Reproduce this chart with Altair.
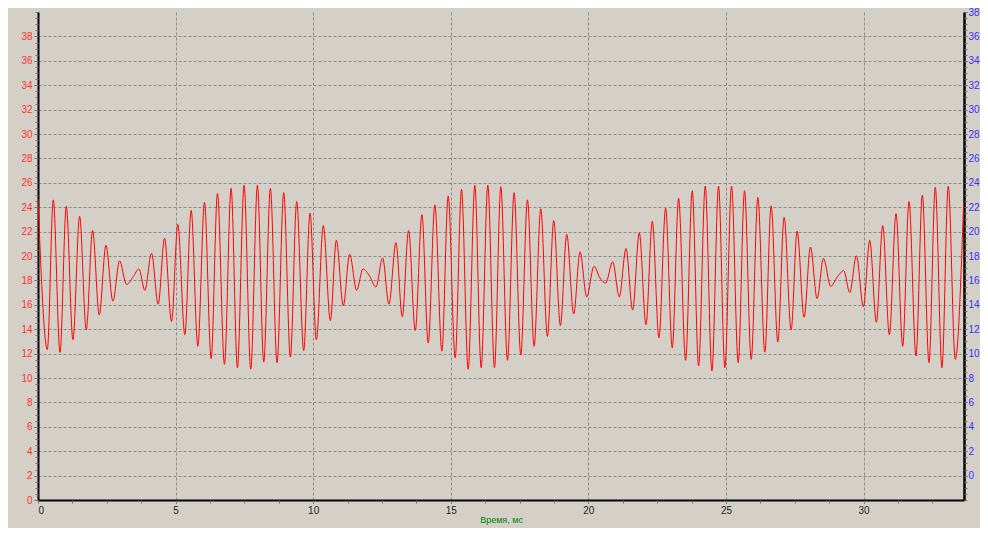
import altair as alt
import pandas as pd

# Extremes of the waveform (time in ms, value)
time_ms = [
    0.0, 0.339, 0.556, 0.799, 1.028, 1.270, 1.512, 1.754, 1.984, 2.226,
    2.468, 2.722, 2.964, 3.218, 3.460, 3.666, 3.884, 4.126, 4.368, 4.598,
    4.852, 5.082, 5.336, 5.565, 5.808, 6.050, 6.292, 6.522, 6.776, 7.017,
    7.247, 7.489, 7.731, 7.974, 8.203,
    8.445, 8.687, 8.929, 9.171, 9.401, 9.655, 9.885, 10.115, 10.369, 10.623,
    10.841, 11.095, 11.325, 11.579, 11.809, 12.05, 12.281, 12.523, 12.753, 13.007,
    13.237, 13.467, 13.709, 13.951, 14.180, 14.422, 14.676, 14.906, 15.160, 15.390,
    15.632, 15.874, 16.104, 16.346, 16.588,
    16.818, 17.060, 17.302, 17.544, 17.786, 18.028, 18.270, 18.512, 18.741, 18.984,
    19.213, 19.467, 19.697, 19.939, 20.205, 20.42, 20.629, 20.883, 21.125, 21.367,
    21.609, 21.851, 22.093, 22.323, 22.565, 22.807, 23.049, 23.279, 23.533, 23.775,
    24.005, 24.247, 24.489, 24.731, 24.960,
    25.203, 25.445, 25.675, 25.917, 26.159, 26.413, 26.642, 26.884, 27.114, 27.368,
    27.586, 27.840, 28.070, 28.312, 28.542, 28.808, 29.05, 29.280, 29.498, 29.740,
    29.994, 30.224, 30.466, 30.696, 30.938, 31.180, 31.422, 31.652, 31.906, 32.136,
    32.378, 32.607, 32.849, 33.079, 33.333, 33.636,
]
signal = [
    24.7, 12.33, 24.6, 12.1, 24.06, 13.14, 23.25, 13.95, 22.1, 15.16,
    20.88, 16.3, 19.6, 17.67, 18.3, 18.94, 17.19, 20.23, 16.05, 21.45,
    14.63, 22.58, 13.55, 23.74, 12.6, 24.4, 11.6, 25.14, 11.12, 25.54,
    10.85, 25.8, 10.72, 25.8, 11.3,
    25.54, 11.26, 25.19, 11.71, 24.46, 12.25, 23.52, 13.14, 22.5, 14.71,
    21.28, 15.92, 20.15, 17.19, 18.94, 18.35, 17.46, 19.83, 16.05, 21.1,
    15.03, 22.09, 13.9, 23.39, 12.87, 24.19, 12.2, 24.92, 11.66, 25.46,
    10.72, 25.8, 10.85, 25.8, 10.85,
    25.68, 11.45, 25.19, 11.88, 24.6, 12.6, 23.87, 13.41, 22.9, 14.3,
    21.77, 15.25, 20.34, 16.65, 19.15, 18.2, 17.78, 19.53, 16.65, 20.61,
    15.57, 21.9, 14.36, 22.85, 13.28, 23.92, 12.47, 24.73, 11.45, 25.35,
    10.99, 25.73, 10.58, 25.73, 10.85,
    25.73, 11.26, 25.35, 11.53, 24.79, 12.12, 24.11, 12.95, 23.17, 13.95,
    22.04, 14.98, 20.74, 16.51, 19.8, 17.51, 18.3, 18.8, 17.0, 20.02,
    15.84, 21.28, 14.57, 22.5, 13.55, 23.47, 12.6, 24.46, 11.8, 25.0,
    11.26, 25.62, 10.85, 25.73, 11.53, 24.33,
]

x_major = [0, 5, 10, 15, 20, 25, 30]
x_minor = [i * 1.25 for i in range(27)]
left_major = list(range(0, 39, 2))
left_minor = [i * 0.5 for i in range(81)]
right_major = list(range(0, 39, 2))
right_minor = [-2 + i * 0.5 for i in range(81)]

df = pd.DataFrame({"t": time_ms, "v": signal})

FONT = "Liberation Sans"
X_DOMAIN = [0, 33.65]
LEFT_DOMAIN = [0, 40]
RIGHT_DOMAIN = [-2, 38]
GRID = dict(grid=True, gridColor="#8a8a8a", gridDash=[3, 2], gridWidth=1)

xs = alt.Scale(domain=X_DOMAIN, nice=False, zero=False)
ys_left = alt.Scale(domain=LEFT_DOMAIN, nice=False, zero=False)
ys_right = alt.Scale(domain=RIGHT_DOMAIN, nice=False, zero=False)

base = alt.Chart(df)

main = base.mark_line(color="#ff0000", strokeWidth=1, interpolate="monotone", clip=True).encode(
    x=alt.X("t:Q", scale=xs, axis=alt.Axis(
        orient="bottom", values=x_major, title="Время, мс", **GRID,
        domainColor="#000000", domainWidth=2, tickColor="#707070", tickSize=3,
        labelColor="#222222", labelFont=FONT, labelFontSize=10, labelPadding=2,
        titleColor="#008000", titleFont=FONT, titleFontSize=9, titleFontWeight="normal",
        titlePadding=0)),
    y=alt.Y("v:Q", scale=ys_left, axis=alt.Axis(
        orient="left", values=left_major, title=None, **GRID,
        domainColor="#000000", domainWidth=2, tickColor="#707070", tickSize=4,
        labelColor="#ff3030", labelFont=FONT, labelFontSize=10, labelPadding=2)),
)

minor_left = base.mark_line(opacity=0).encode(
    x=alt.X("t:Q", scale=xs, axis=alt.Axis(
        orient="bottom", values=x_minor, labels=False, grid=False, domain=False,
        tickSize=3, tickColor="#707070", title=None)),
    y=alt.Y("v:Q", scale=ys_left, axis=alt.Axis(
        orient="left", values=left_minor, labels=False, grid=False, domain=False,
        tickSize=3, tickColor="#707070", title=None)),
)

right = base.mark_line(opacity=0).encode(
    x=alt.X("t:Q", scale=xs, axis=None),
    y=alt.Y("v:Q", scale=ys_right, axis=alt.Axis(
        orient="right", values=right_major, title=None, grid=False,
        domainColor="#000000", domainWidth=2.5, tickColor="#707070", tickSize=3,
        labelColor="#3030ff", labelFont=FONT, labelFontSize=10, labelPadding=1)),
)

minor_right = base.mark_line(opacity=0).encode(
    x=alt.X("t:Q", scale=xs, axis=None),
    y=alt.Y("v:Q", scale=ys_right, axis=alt.Axis(
        orient="right", values=right_minor, labels=False, grid=False, domain=False,
        tickSize=3, tickColor="#707070", title=None)),
)

chart = alt.layer(main, minor_left, right, minor_right).resolve_scale(
    x="independent", y="independent"
).resolve_axis(
    x="independent", y="independent"
).properties(
    width=926,
    height=488,
    background="#D4D0C8",
    padding={"left": 30, "top": 4, "right": 16, "bottom": 28},
    autosize=alt.AutoSizeParams(type="none"),
).configure_view(stroke=None, fill="#D4D0C8")

chart.save("out.html", embed_options={"renderer": "svg", "actions": False})
